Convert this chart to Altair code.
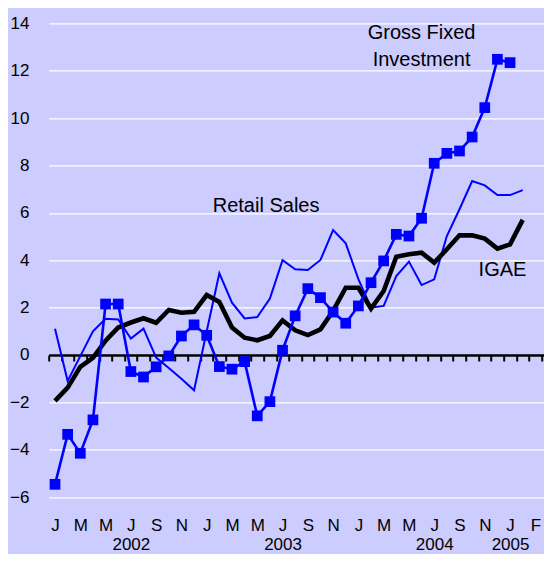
import json
import altair as alt
import pandas as pd

# ---------------- data ----------------
# month index 0 = Jan 2002 ... 37 = Feb 2005
gfi = [-5.46, -3.35, -4.15, -2.74, 2.15, 2.15, -0.70, -0.93, -0.50, -0.04, 0.80, 1.27,
       0.83, -0.49, -0.60, -0.28, -2.57, -1.97, 0.20, 1.65, 2.80, 2.42, 1.81, 1.34,
       2.07, 3.05, 3.97, 5.09, 5.02, 5.77, 8.09, 8.51, 8.61, 9.20, 10.44, 12.48,
       12.34]
retail = [1.11, -1.10, -0.05, 1.00, 1.53, 1.50, 0.69, 1.11, -0.11, -0.55, -1.00, -1.49,
          1.00, 3.45, 2.21, 1.54, 1.60, 2.38, 4.00, 3.62, 3.59, 4.01, 5.27, 4.71,
          3.20, 2.00, 2.07, 3.33, 3.94, 2.95, 3.19, 5.02, 6.15, 7.34, 7.16, 6.75,
          6.75, 6.96]
igae = [-1.94, -1.38, -0.50, -0.12, 0.60, 1.16, 1.37, 1.55, 1.36, 1.90, 1.78, 1.82,
        2.53, 2.24, 1.16, 0.73, 0.62, 0.80, 1.46, 1.04, 0.84, 1.08, 1.86, 2.84,
        2.84, 1.96, 2.70, 4.15, 4.25, 4.32, 3.90, 4.46, 5.05, 5.05, 4.91, 4.49,
        4.67, 5.70]

month_tick_values = list(range(0, 39, 2))
month_tick_labels = ["J", "M", "M", "J", "S", "N"] * 3 + ["J", "F"]
year_tick_values = [6, 18, 30, 36]
year_tick_labels = ["2002", "2003", "2004", "2005"]
y_ticks = [-6, -4, -2, 0, 2, 4, 6, 8, 10, 12, 14]

label_text = ["Gross Fixed", "Investment", "Retail Sales", "IGAE"]
label_m = [29.0, 29.0, 16.7, 35.4]
label_v = [13.6, 12.45, 6.3, 3.6]

df_gfi = pd.DataFrame({"m": list(range(len(gfi))), "value": gfi})
df_retail = pd.DataFrame({"m": list(range(len(retail))), "value": retail})
df_igae = pd.DataFrame({"m": list(range(len(igae))), "value": igae})
df_lab = pd.DataFrame({"text": label_text, "m": label_m, "value": label_v})

# ---------------- layout ----------------
PX_PER_MONTH = 12.64
PLOT_W = 495.3
PLOT_H = 497.5
XMAX = -0.5 + PLOT_W / PX_PER_MONTH
FONT = "Liberation Sans"

xscale = alt.Scale(domain=[-0.5, XMAX], nice=False, zero=False)
yscale = alt.Scale(domain=[-7, 14], nice=False, zero=False)

month_axis = alt.Axis(
    orient="bottom", values=month_tick_values,
    labelExpr=json.dumps(month_tick_labels).replace('"', "'") + "[round(datum.value/2)]",
    ticks=False, tickSize=0, domain=False, grid=False, title=None,
    labelFont=FONT, labelFontSize=17, labelColor="black", labelAngle=0,
    labelBaseline="middle", labelPadding=4.5, labelFlush=False, labelOverlap=False,
)
year_axis = alt.Axis(
    orient="bottom", values=year_tick_values,
    labelExpr=json.dumps(year_tick_labels).replace('"', "'")
    + "[indexof(" + json.dumps(year_tick_values) + ", datum.value)]",
    ticks=False, tickSize=0, domain=False, grid=False, title=None,
    labelFont=FONT, labelFontSize=17, labelColor="black", labelAngle=0,
    labelBaseline="middle", labelPadding=23.5, labelFlush=False, labelOverlap=False,
)
zero_axis = alt.Axis(
    orient="bottom", values=[i + 0.5 for i in range(-1, 39)],
    labels=False, ticks=True, tickSize=6, tickWidth=2, tickColor="black",
    domain=True, domainColor="black", domainWidth=2.6, grid=False, title=None,
    offset=-7 * PLOT_H / 21,
)
y_axis = alt.Axis(
    values=y_ticks, grid=True, gridColor="white", gridWidth=1.2,
    domain=False, ticks=False, title=None,
    labelFont=FONT, labelFontSize=17, labelColor="black",
    labelPadding=19.7, labelBaseline="middle", labelFlush=False,
)

retail_layer = alt.Chart(df_retail).mark_line(color="#0000FF", strokeWidth=2).encode(
    x=alt.X("m:Q", scale=xscale, axis=month_axis),
    y=alt.Y("value:Q", scale=yscale, axis=None),
)
igae_layer = alt.Chart(df_igae).mark_line(color="black", strokeWidth=4.6).encode(
    x=alt.X("m:Q", scale=xscale, axis=year_axis),
    y=alt.Y("value:Q", scale=yscale, axis=None),
)
gfi_line = alt.Chart(df_gfi).mark_line(color="#0000FF", strokeWidth=2.6).encode(
    x=alt.X("m:Q", scale=xscale, axis=zero_axis),
    y=alt.Y("value:Q", scale=yscale, axis=y_axis),
)
gfi_pts = alt.Chart(df_gfi).mark_point(
    shape="square", filled=True, color="#0000FF", size=115, opacity=1
).encode(
    x=alt.X("m:Q", scale=xscale, axis=None),
    y=alt.Y("value:Q", scale=yscale, axis=None),
)
labels = alt.Chart(df_lab).mark_text(
    font=FONT, fontSize=20, color="black", align="center", baseline="middle"
).encode(
    x=alt.X("m:Q", scale=xscale, axis=None),
    y=alt.Y("value:Q", scale=yscale, axis=None),
    text="text:N",
)

chart = (
    alt.layer(retail_layer, igae_layer, gfi_line, gfi_pts, labels)
    .resolve_axis(x="independent", y="independent")
    .properties(
        width=PLOT_W, height=PLOT_H,
        autosize=alt.AutoSizeParams(type="none"),
        padding={"left": 40.7, "top": 15.3, "right": 0, "bottom": 33.2},
        background="#CCCCFF",
    )
    .configure_view(stroke=None)
)

chart.save("out.html", embed_options={"renderer": "svg", "actions": False})
